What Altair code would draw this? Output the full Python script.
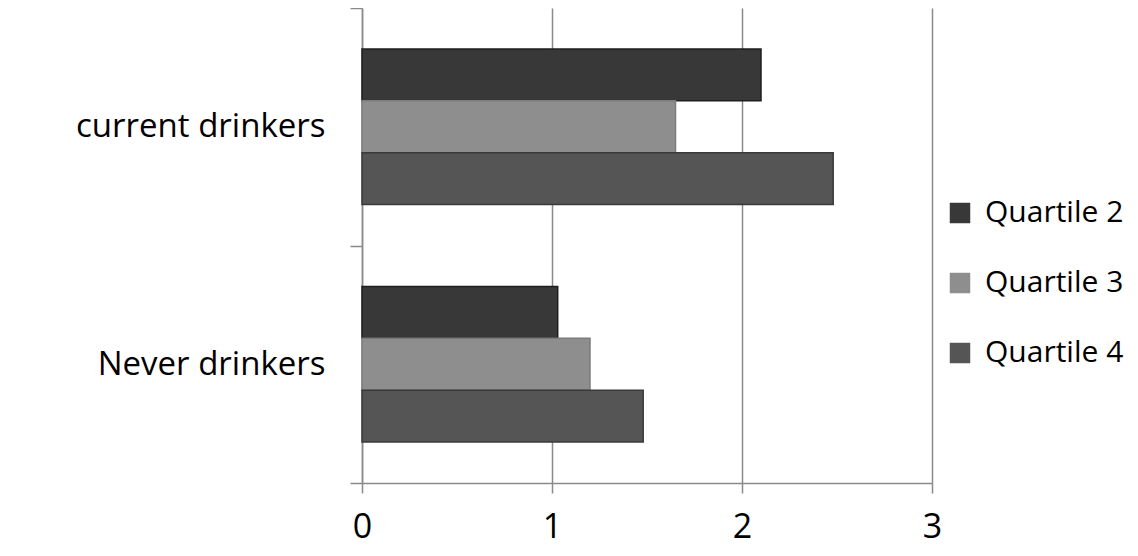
import altair as alt
import pandas as pd

categories = ["current drinkers", "Never drinkers"]
series = ["Quartile 2", "Quartile 3", "Quartile 4"]
current_vals = [2.10, 1.65, 2.48]
never_vals = [1.03, 1.20, 1.48]
x_ticks = [0, 1, 2, 3]
fill_colors = ["#383838", "#8e8e8e", "#555555"]
stroke_colors = ["#1e1e1e", "#7c7c7c", "#3a3a3a"]

rows = []
for s, v in zip(series, current_vals):
    rows.append({"group": categories[0], "quartile": s, "value": v})
for s, v in zip(series, never_vals):
    rows.append({"group": categories[1], "quartile": s, "value": v})
df = pd.DataFrame(rows)

FONT = "Open Sans"
GRAY = "#8a8a8a"

chart = alt.Chart(df).mark_bar(strokeWidth=1.5).encode(
    x=alt.X(
        "value:Q",
        scale=alt.Scale(domain=[0, 3], nice=False, zero=True),
        axis=alt.Axis(
            values=x_ticks, title=None, grid=True, gridColor=GRAY, gridWidth=1.5,
            domainColor=GRAY, domainWidth=1.5, tickColor=GRAY, tickWidth=1.5,
            tickSize=10, labelFontSize=34, labelFont=FONT, labelColor="black",
            labelPadding=17, labelFlush=False, format="d",
        ),
    ),
    y=alt.Y(
        "group:N", sort=categories,
        scale=alt.Scale(paddingInner=0, paddingOuter=0),
        axis=alt.Axis(
            title=None, tickBand="extent", ticks=True, tickSize=12, tickColor=GRAY,
            tickWidth=1.5, domainColor=GRAY, domainWidth=1.5, labelFontSize=33,
            labelFont=FONT, labelColor="black",
            labelPadding=25, grid=False, labelLimit=400,
        ),
    ),
    yOffset=alt.YOffset(
        "quartile:N", sort=series,
        scale=alt.Scale(paddingOuter=0.79, paddingInner=0),
    ),
    color=alt.Color(
        "quartile:N", sort=series,
        scale=alt.Scale(domain=series, range=fill_colors),
        legend=alt.Legend(
            title=None, orient="none", legendX=583, legendY=190,
            symbolType="square", symbolSize=420, symbolStrokeWidth=0,
            labelFontSize=30, labelFont=FONT, labelColor="black",
            rowPadding=40, labelOffset=10, labelLimit=300,
        ),
    ),
    stroke=alt.Stroke(
        "quartile:N", sort=series,
        scale=alt.Scale(domain=series, range=stroke_colors), legend=None,
    ),
).properties(
    width=570, height=475,
    autosize=alt.AutoSizeParams(type="none"),
    padding={"left": 354, "top": 0, "right": 198, "bottom": 63},
).configure_view(stroke=None)

chart.save("out.html", embed_options={"renderer": "svg", "actions": False})
